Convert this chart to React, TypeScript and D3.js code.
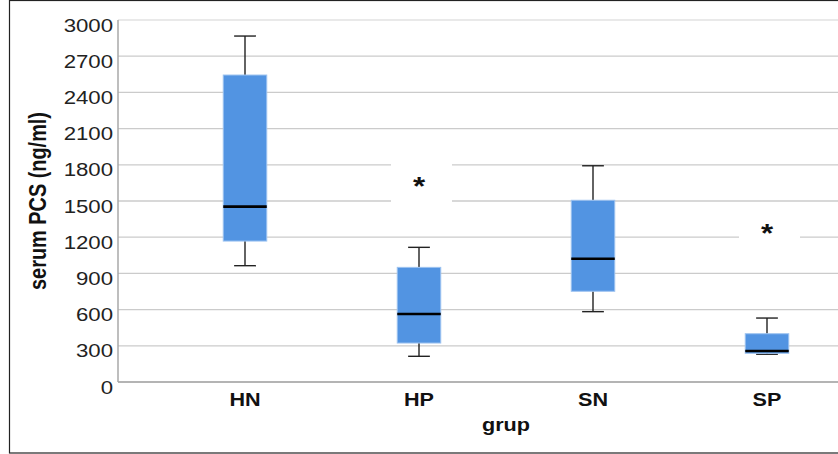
import * as d3 from "d3";

const categories = ["HN", "HP", "SN", "SP"];
const whiskerLow = [964, 213, 583, 230];
const q1 = [1168, 323, 752, 238];
const median = [1453, 563, 1022, 257];
const q3 = [2544, 950, 1506, 400];
const whiskerHigh = [2867, 1116, 1792, 530];
const extremes: (number | null)[] = [null, 1666, null, 1276];
const yTicks = [0, 300, 600, 900, 1200, 1500, 1800, 2100, 2400, 2700, 3000];
const yLabel = "serum PCS (ng/ml)";
const xLabel = "grup";

const W = 838;
const H = 454;
const plot = { left: 118, right: 900, top: 20, bottom: 382 };
const font = "'Liberation Sans', Arial, sans-serif";
const stretch = 1.2; // the source glyphs are wider than they are tall

export default function App() {
  const y = d3.scaleLinear().domain([0, 3000]).range([plot.bottom, plot.top]);
  const x = d3.scaleBand().domain(categories).range([158, 854]);
  const cx = (c: string) => (x(c) ?? 0) + x.bandwidth() / 2;
  const boxW = x.bandwidth() * 0.25;

  return (
    <svg
      width={W}
      height={H}
      style={{ position: "fixed", left: 0, top: 0, background: "#fff" }}
      fontFamily={font}
    >
      {/* gridlines */}
      {yTicks.map((t) => (
        <line
          key={t}
          x1={plot.left}
          x2={plot.right}
          y1={y(t)}
          y2={y(t)}
          stroke={t === 3000 ? "#e2e2e2" : "#cbcbcb"}
          strokeWidth={1.3}
        />
      ))}

      {/* white patches behind the extreme markers */}
      {categories.map((c, i) =>
        extremes[i] == null ? null : (
          <rect
            key={"bg" + c}
            x={cx(c) - 28}
            y={y(extremes[i] as number) - 22}
            width={61}
            height={44}
            fill="#fff"
          />
        )
      )}

      {/* axes */}
      <line x1={plot.left} x2={plot.left} y1={plot.top} y2={plot.bottom} stroke="#a9a9a9" strokeWidth={1.5} />
      <line x1={plot.left} x2={plot.right} y1={plot.bottom} y2={plot.bottom} stroke="#a9a9a9" strokeWidth={1.5} />

      {/* boxes */}
      {categories.map((c, i) => {
        const m = cx(c);
        return (
          <g key={c}>
            <line x1={m} x2={m} y1={y(whiskerHigh[i])} y2={y(q3[i])} stroke="#222" strokeWidth={1.4} />
            <line x1={m} x2={m} y1={y(q1[i])} y2={y(whiskerLow[i])} stroke="#222" strokeWidth={1.4} />
            <line x1={m - boxW / 4} x2={m + boxW / 4} y1={y(whiskerHigh[i])} y2={y(whiskerHigh[i])} stroke="#222" strokeWidth={1.4} />
            <line x1={m - boxW / 4} x2={m + boxW / 4} y1={y(whiskerLow[i])} y2={y(whiskerLow[i])} stroke="#222" strokeWidth={1.4} />
            <rect
              x={m - boxW / 2}
              y={y(q3[i])}
              width={boxW}
              height={y(q1[i]) - y(q3[i])}
              fill="#5294e2"
              stroke="#9cc2f0"
              strokeWidth={1}
            />
            <line x1={m - boxW / 2} x2={m + boxW / 2} y1={y(median[i])} y2={y(median[i])} stroke="#000" strokeWidth={2.6} />
            {extremes[i] != null && (
              <text
                transform={`translate(${m},${y(extremes[i] as number) + 14}) scale(${stretch},1)`}
                textAnchor="middle"
                fontSize={26}
                fontWeight="bold"
                fill="#111"
              >
                *
              </text>
            )}
          </g>
        );
      })}

      {/* y tick labels */}
      {yTicks.map((t) => (
        <text
          key={"t" + t}
          transform={`translate(113,${y(t) + 11.5}) scale(${stretch},1)`}
          textAnchor="end"
          fontSize={18.5}
          fill="#222"
        >
          {t}
        </text>
      ))}

      {/* category labels */}
      {categories.map((c) => (
        <text
          key={"c" + c}
          transform={`translate(${cx(c)},406) scale(${stretch},1)`}
          textAnchor="middle"
          fontSize={18}
          fontWeight="bold"
          fill="#111"
        >
          {c}
        </text>
      ))}

      <text
        transform={`translate(${(cx(categories[0]) + cx(categories[3])) / 2},431) scale(${stretch},1)`}
        textAnchor="middle"
        fontSize={18}
        fontWeight="bold"
        fill="#111"
      >
        {xLabel}
      </text>

      <text
        transform={`translate(46,201) scale(1.25,1) rotate(-90)`}
        textAnchor="middle"
        fontSize={18.5}
        fontWeight="bold"
        fill="#111"
        textLength={178}
        lengthAdjust="spacingAndGlyphs"
      >
        {yLabel}
      </text>

      {/* outer frame */}
      <rect x={9.5} y={0.5} width={W} height={H - 1.5} fill="none" stroke="#222" strokeWidth={1.2} />
    </svg>
  );
}
